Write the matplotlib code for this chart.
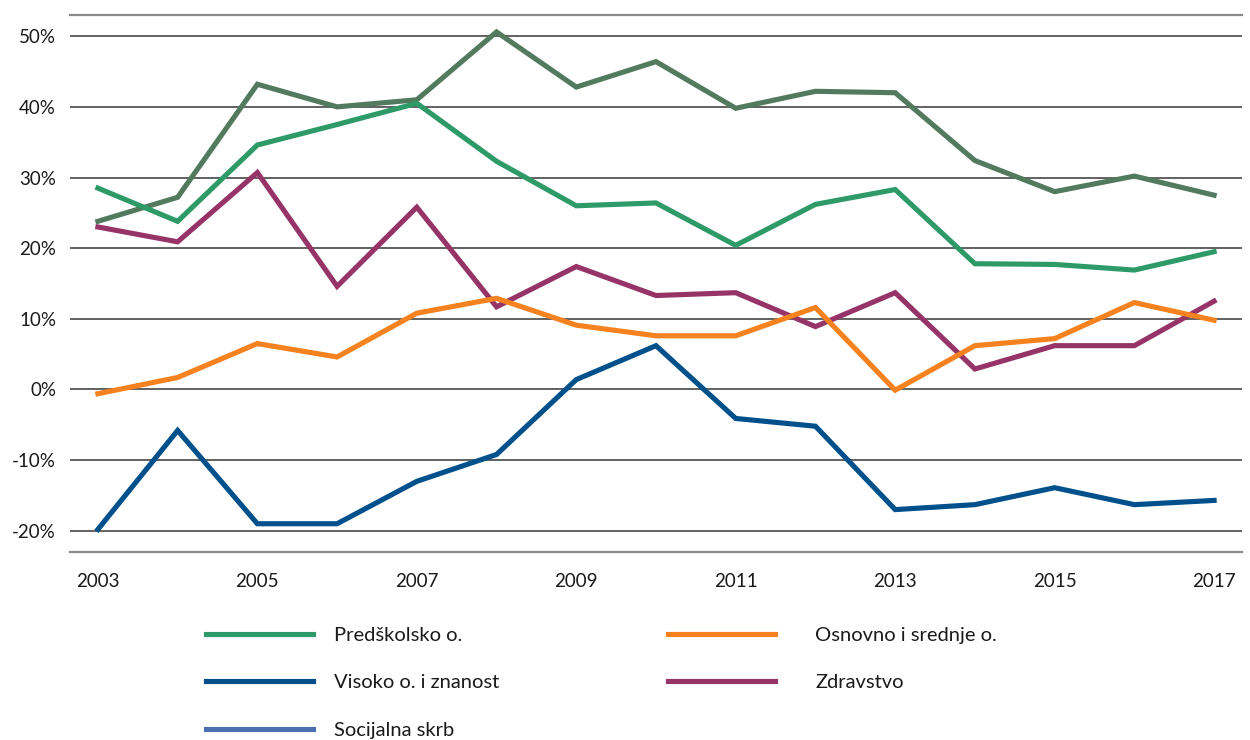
import matplotlib
matplotlib.use("Agg")
import matplotlib.pyplot as plt
from matplotlib.lines import Line2D

years = list(range(2003, 2018))
predskolsko = [28.5, 23.8, 34.6, 37.5, 40.5, 32.3, 26.0, 26.4, 20.4, 26.2, 28.3, 17.8, 17.7, 16.9, 19.5]
osnovno = [-0.6, 1.7, 6.5, 4.6, 10.8, 12.9, 9.1, 7.6, 7.6, 11.6, -0.1, 6.2, 7.2, 12.3, 9.8]
visoko = [-19.8, -5.8, -19.0, -19.0, -13.0, -9.2, 1.4, 6.2, -4.1, -5.2, -17.0, -16.3, -13.9, -16.3, -15.7]
zdravstvo = [23.0, 20.9, 30.7, 14.6, 25.8, 11.7, 17.4, 13.3, 13.7, 8.9, 13.7, 2.9, 6.2, 6.2, 12.5]
socijalna = [23.8, 27.2, 43.2, 40.0, 41.0, 50.6, 42.8, 46.4, 39.8, 42.2, 42.0, 32.4, 28.0, 30.2, 27.5]

labels = ["Predškolsko o.", "Osnovno i srednje o.", "Visoko o. i znanost", "Zdravstvo", "Socijalna skrb"]
yticks = [-20, -10, 0, 10, 20, 30, 40, 50]
xticks = [2003, 2005, 2007, 2009, 2011, 2013, 2015, 2017]

c_green = "#2e9a68"
c_orange = "#f5821f"
c_blue = "#00508c"
c_purple = "#963468"
c_grey = "#527a5e"
c_legblue = "#4e6eb4"

plt.rcParams['font.family'] = ['Lato', 'DejaVu Sans']

fig = plt.figure(figsize=(12.5, 7.4), dpi=100)
ax = fig.add_axes([70/1250, 1-552/740, (1242-70)/1250, (552-15)/740])

lw = 3.7
ax.plot(years, socijalna, color=c_grey, lw=lw, solid_joinstyle='miter', zorder=3)
ax.plot(years, predskolsko, color=c_green, lw=lw, solid_joinstyle='miter', zorder=3)
ax.plot(years, zdravstvo, color=c_purple, lw=lw, solid_joinstyle='miter', zorder=3)
ax.plot(years, osnovno, color=c_orange, lw=lw, solid_joinstyle='miter', zorder=3)
ax.plot(years, visoko, color=c_blue, lw=lw, solid_joinstyle='miter', zorder=3)

ax.set_xlim(2002.65, 2017.35)
ax.set_ylim(-23, 53)
ax.set_yticks(yticks)
ax.set_yticklabels([f"{v}%" for v in yticks])
ax.set_xticks(xticks)
ax.set_xticklabels([str(x) for x in xticks])
ax.tick_params(axis='both', length=0, labelsize=13.5, colors="#1a1a1a")
ax.tick_params(axis='y', pad=10)
ax.tick_params(axis='x', pad=15)
ax.grid(axis='y', color="#555555", lw=1.3, zorder=1)
for s in ['left', 'right']:
    ax.spines[s].set_visible(False)
for s in ['top', 'bottom']:
    ax.spines[s].set_color("#8a8a8a")
    ax.spines[s].set_linewidth(1.6)

h = lambda c: Line2D([], [], color=c, lw=3.7)
kw = dict(loc='upper left', frameon=False, fontsize=14.5, handlelength=5.3,
          labelspacing=1.5, borderpad=0, borderaxespad=0)
leg1 = fig.legend([h(c_green), h(c_blue), h(c_legblue)], [labels[0], labels[2], labels[4]],
                  bbox_to_anchor=(206/1250, 1-627/740), handletextpad=1.05, **kw)
leg2 = fig.legend([h(c_orange), h(c_purple)], [labels[1], labels[3]],
                  bbox_to_anchor=(668/1250, 1-627/740), handletextpad=2.0, **kw)
for leg in (leg1, leg2):
    for t in leg.get_texts():
        t.set_color("#1a1a1a")

fig.savefig("out.png", dpi=100)
